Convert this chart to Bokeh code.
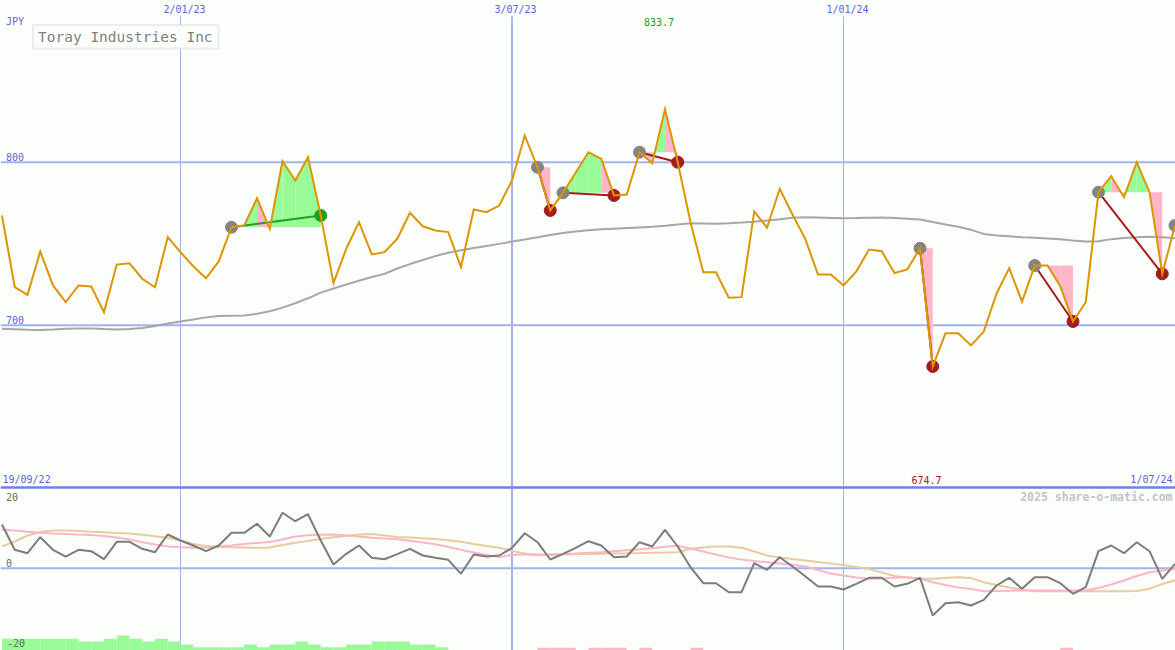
import numpy as np
import pandas as pd
from bokeh.plotting import figure
from bokeh.models import Range1d, Span, Label, BoxAnnotation
from bokeh.embed import file_html
from bokeh.resources import INLINE

# ---------------- data ----------------
dates = pd.date_range("2022-09-26", periods=93, freq="7D")

price = [767.3, 723.3, 718.6, 745.2, 724.4, 714.1, 724.4, 723.7, 708.0, 737.2,
         738.0, 728.5, 723.3, 754.0, 744.8, 736.2, 728.8, 739.1, 760.1, 761.2,
         777.9, 759.1, 800.6, 788.8, 803.1, 767.3, 725.8, 746.9, 763.2, 743.4,
         744.8, 753.0, 769.0, 760.7, 758.1, 757.1, 735.6, 771.0, 769.3, 773.4,
         788.8, 816.4, 796.9, 770.4, 781.2, 793.7, 806.1, 802.1, 779.6, 780.2,
         806.1, 799.4, 832.5, 800.0, 763.2, 732.5, 732.5, 716.8, 717.2, 769.8,
         759.8, 783.7, 767.9, 753.0, 731.1, 731.1, 724.4, 732.9, 746.4, 745.4,
         732.0, 734.2, 747.2, 674.7, 695.1, 695.1, 687.6, 696.1, 719.3, 735.0,
         714.5, 736.6, 736.6, 723.9, 702.3, 714.1, 781.6, 791.4, 778.5, 800.0,
         781.6, 731.5, 761.2]

ma_long = [697.8, 697.5, 697.2, 697.0, 697.3, 697.8, 698.0, 698.0, 697.6, 697.4,
           697.6, 698.3, 699.5, 701.0, 702.3, 703.5, 704.8, 705.6, 705.8, 706.0,
           707.0, 708.6, 710.8, 713.5, 716.5, 720.0, 722.5, 725.0, 727.3, 729.6,
           731.5, 734.8, 737.5, 740.0, 742.4, 744.5, 746.0, 747.3, 748.6, 749.9,
           751.3, 752.6, 754.0, 755.4, 756.5, 757.5, 758.3, 758.8, 759.2, 759.6,
           760.0, 760.4, 761.0, 761.8, 762.5, 762.4, 762.3, 762.6, 763.0, 763.5,
           764.2, 765.0, 765.9, 766.2, 766.0, 765.8, 765.6, 765.7, 765.9, 766.0,
           765.8, 765.3, 764.8, 763.3, 761.8, 760.4, 758.5, 756.0, 755.0, 754.5,
           754.0, 753.6, 753.2, 752.8, 752.0, 751.3, 751.5, 752.8, 753.5, 754.0,
           754.3, 754.0, 753.4]

momentum = [10.84, 4.57, 3.72, 7.69, 4.57, 2.90, 4.57, 4.22, 2.23, 6.55,
            6.55, 4.81, 3.97, 8.36, 6.87, 5.63, 4.22, 5.63, 8.78, 8.78,
            11.02, 7.87, 13.75, 11.66, 13.40, 6.87, 0.92, 3.57, 5.63, 2.58,
            2.23, 3.50, 4.81, 3.15, 2.58, 2.08, -1.39, 3.40, 2.90, 3.15,
            5.06, 8.68, 6.45, 2.16, 3.57, 5.06, 6.70, 5.63, 2.73, 2.90,
            6.45, 5.38, 9.53, 5.38, 0.25, -3.72, -3.72, -5.96, -5.96, 1.24,
            -0.40, 2.73, 0.42, -2.00, -4.54, -4.54, -5.29, -3.87, -2.38, -2.38,
            -4.54, -3.87, -2.38, -11.74, -8.68, -8.44, -9.26, -7.84, -4.29, -2.38,
            -5.11, -2.23, -2.23, -3.72, -6.35, -4.71, 4.22, 5.63, 3.72, 6.45,
            4.22, -2.63, 1.09]

signal_fast = [9.53, 9.35, 9.03, 8.81, 8.61, 8.49, 8.36, 8.24, 7.99, 7.62,
               7.12, 6.43, 5.88, 5.38, 5.19, 5.06, 5.14, 5.38, 5.63, 6.00,
               6.25, 6.50, 7.12, 7.87, 8.16, 8.31, 8.36, 8.11, 7.87, 7.54,
               7.37, 7.20, 6.80, 6.38, 5.93, 5.26, 4.57, 3.90, 3.28, 2.78,
               3.28, 3.40, 3.40, 3.45, 3.52, 3.65, 3.82, 3.97, 4.22, 4.47,
               4.71, 4.96, 5.33, 5.56, 4.89, 4.14, 3.40, 2.66, 2.16, 1.79,
               1.49, 1.17, 0.84, 0.42, -0.45, -1.32, -1.81, -2.31, -2.63, -2.56,
               -2.38, -2.23, -2.56, -3.47, -4.17, -4.79, -5.16, -5.71, -5.66, -5.58,
               -5.53, -5.53, -5.53, -5.53, -5.53, -5.53, -4.91, -4.04, -3.05, -1.94,
               -0.99, -0.57, -0.15]

signal_slow = [5.38, 6.63, 8.11, 8.98, 9.35, 9.35, 9.23, 9.06, 8.91, 8.73,
               8.61, 8.29, 7.92, 7.54, 6.87, 6.00, 5.51, 5.33, 5.21, 5.14,
               5.06, 5.14, 5.76, 6.30, 6.75, 7.25, 7.69, 7.99, 8.36, 8.49,
               8.11, 7.74, 7.62, 7.42, 7.25, 6.92, 6.55, 6.00, 5.51, 5.06,
               4.27, 3.65, 3.23, 3.28, 3.40, 3.45, 3.52, 3.57, 3.65, 3.70,
               3.77, 3.85, 3.90, 3.97, 4.81, 5.14, 5.38, 5.38, 5.06, 4.14,
               3.15, 2.66, 2.28, 1.91, 1.54, 1.17, 0.79, 0.30, -0.20, -1.07,
               -1.94, -2.31, -2.56, -2.63, -2.43, -2.23, -2.43, -3.47, -4.17, -4.79,
               -5.29, -5.71, -5.71, -5.71, -5.71, -5.71, -5.71, -5.71, -5.71, -5.66,
               -5.11, -3.92, -3.05]

# histogram bars (week segment index -> top value)
green_bar_idx = list(range(0, 35))
green_bar_val = [-17.52] * 6 + [-18.19] * 2 + [-17.52, -16.70, -17.52, -18.19, -17.52, -18.19, -18.93] \
    + [-19.60] * 4 + [-18.93, -19.60] + [-18.93] * 2 + [-18.19, -18.93] + [-19.60] * 2 \
    + [-18.93] * 2 + [-18.19] * 3 + [-18.93] * 2 + [-19.60]
pink_bar_idx = [42, 43, 44, 46, 47, 48, 50, 54, 83]
pink_bar_val = [-19.75] * 9

# trades: start index, end index, outcome, fill colour per week inside the trade
trade_start = [18, 42, 44, 50, 72, 81, 86]
trade_end = [25, 43, 48, 53, 73, 84, 91]
trade_win = [True, False, False, False, False, False, False]
trade_fill = [["g", "g", "p", "g", "g", "g", "g"],
              ["p"],
              ["g", "g", "g", "p"],
              ["p", "g", "p"],
              ["p"],
              ["p", "p", "p"],
              ["g", "p", "g", "g", "p"]]
open_start = [92]

high_label, low_label = "833.7", "674.7"
date_labels = ["2/01/23", "3/07/23", "1/01/24"]
date_grid = ["2023-01-02", "2023-07-03", "2024-01-01"]
date_grid_width = [1, 2, 1]

# ---------------- geometry ----------------
W, H = 1175, 650
REF_W, REF_H = 1175, 650
xms = (dates.astype("int64") // 10**6).astype(float).to_numpy()
week_ms = 7 * 86400 * 1000.0
pxw = 12.75
x_start = xms[0] - 1.5 / pxw * week_ms
x_end = x_start + REF_W / pxw * week_ms
P_TOP = 800 + 161.7 / 1.63
P_BOT = P_TOP - REF_H / 1.63
I_TOP = 567.7 / 4.03
I_BOT = (567.7 - REF_H) / 4.03


def xd(px):
    return x_start + px / REF_W * (x_end - x_start)


def yd(py):
    return P_TOP - py / REF_H * (P_TOP - P_BOT)


BG = "#fcfefc"
BLUE_TXT = "#5566dd"
GRID = "#a3b3f0"
GREEN_F = "#98fb98"
PINK_F = "#ffb6c8"
DARKRED = "#a51c1c"
GREEN_D = "#20a020"

p = figure(width=W, height=H, x_range=Range1d(x_start, x_end), y_range=Range1d(P_BOT, P_TOP),
           x_axis_type=None, y_axis_type=None, toolbar_location=None, output_backend="svg",
           min_border=0, background_fill_color=BG, border_fill_color=BG)
p.outline_line_color = None
p.grid.visible = False
p.extra_y_ranges = {"ind": Range1d(I_BOT, I_TOP)}

# gridlines
for lv in (800, 700):
    p.add_layout(Span(location=lv, dimension="width", line_color=GRID, line_width=2, level="underlay"))
p.add_layout(Span(location=yd(567.7), dimension="width", line_color=GRID, line_width=2, level="underlay"))
gx = [pd.Timestamp(d).value / 1e6 for d in date_grid]
p.segment(x0=gx, x1=gx, y0=[yd(16)] * 3, y1=[yd(REF_H)] * 3, line_color=GRID, line_width=date_grid_width)
p.add_layout(Span(location=yd(487), dimension="width", line_color="#6f80e8", line_width=2.5))

# trade fills
pxs, pys, pcs = [], [], []
for s, e, cols in zip(trade_start, trade_end, trade_fill):
    lvl = price[s]
    for k, i in enumerate(range(s, e)):
        pxs.append([xms[i], xms[i + 1], xms[i + 1], xms[i]])
        pys.append([lvl, lvl, price[i + 1], price[i]])
        pcs.append(GREEN_F if cols[k] == "g" else PINK_F)
p.patches(pxs, pys, fill_color=pcs, line_color=None)

# long moving average
p.line(xms, ma_long, line_color="#a6a6a6", line_width=2)

# trade connector lines
p.segment(x0=[xms[s] for s in trade_start], y0=[price[s] for s in trade_start],
          x1=[xms[e] for e in trade_end], y1=[price[e] for e in trade_end],
          line_color=[GREEN_D if w else DARKRED for w in trade_win], line_width=2)

# dots
starts = trade_start + open_start
p.scatter([xms[i] for i in starts], [price[i] for i in starts], size=12, color="#848484")
p.scatter([xms[e] for e, w in zip(trade_end, trade_win) if not w],
          [price[e] for e, w in zip(trade_end, trade_win) if not w], size=12, color=DARKRED)
p.scatter([xms[e] for e, w in zip(trade_end, trade_win) if w],
          [price[e] for e, w in zip(trade_end, trade_win) if w], size=12, color=GREEN_D)

# price line
p.line(xms, price, line_color="#dd9500", line_width=2, line_join="miter")

# lower panel
p.quad(left=[xms[i] for i in green_bar_idx], right=[xms[i + 1] for i in green_bar_idx],
       bottom=-40, top=green_bar_val, fill_color=GREEN_F, line_color=None, y_range_name="ind")
p.quad(left=[xms[i] for i in pink_bar_idx], right=[xms[i + 1] for i in pink_bar_idx],
       bottom=-40, top=pink_bar_val, fill_color=PINK_F, line_color=None, y_range_name="ind")
p.line(xms, signal_slow, line_color="#e6cc9e", line_width=2, y_range_name="ind")
p.line(xms, signal_fast, line_color="#ffb4c8", line_width=2, y_range_name="ind")
p.line(xms, momentum, line_color="#7c7c7c", line_width=2, y_range_name="ind")


# texts
def label(px, py, text, color, size="10px", align="left", bold=False):
    p.add_layout(Label(x=xd(px), y=yd(py), text=text, text_color=color,
                       text_font="DejaVu Sans Mono", text_font_size=size,
                       text_align=align, text_baseline="middle",
                       text_font_style="bold" if bold else "normal"))


label(5.5, 21, "JPY", BLUE_TXT)
for lx, t in zip([163, 494, 826], date_labels):
    label(lx, 9, t, BLUE_TXT)
label(658.5, 21, high_label, GREEN_D, align="center")
label(5.5, 156, "800", BLUE_TXT)
label(5.5, 319, "700", BLUE_TXT)
label(2, 479, "19/09/22", BLUE_TXT)
label(1172, 479, "1/07/24", BLUE_TXT, align="right")
label(926, 479, low_label, DARKRED, align="center")
label(1172, 496, "2025 share-o-matic.com", "#c4c4c4", size="11.5px", align="right", bold=True)
label(5.5, 496, "20", "#6a6a6a")
label(5.5, 562, "0", "#6a6a6a")
label(6.5, 642.6, "-20", "#6a6a6a")

p.add_layout(BoxAnnotation(left=xd(32.5), right=xd(218), top=yd(24.5), bottom=yd(48),
                           fill_color=BG, fill_alpha=1.0, line_color="#c0c0c0", line_width=2))
label(37.5, 36.5, "Toray Industries Inc", "#808080", size="14.5px")

open("out.html", "w").write(file_html(p, INLINE))
